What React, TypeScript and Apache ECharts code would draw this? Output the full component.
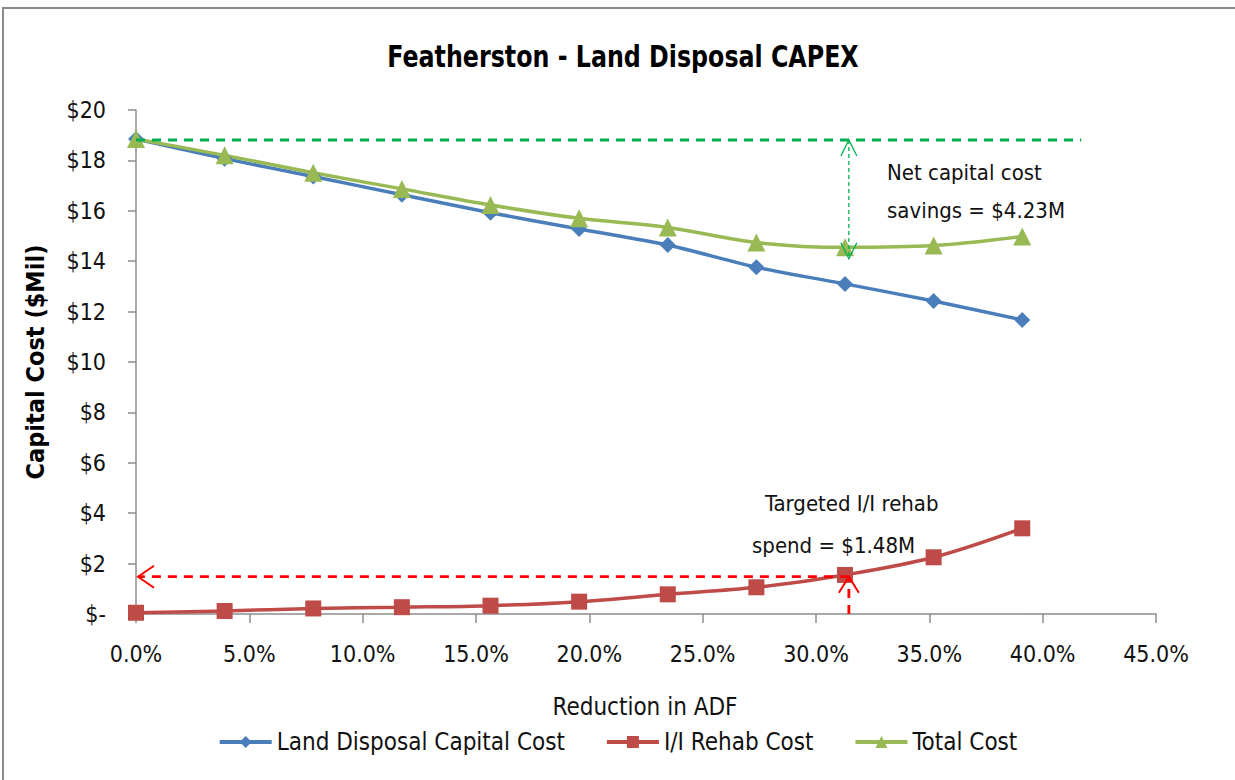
import React, { useEffect, useRef } from "react";
import * as echarts from "echarts";

const reductionPct = [0, 3.91, 7.82, 11.73, 15.64, 19.55, 23.46, 27.37, 31.28, 35.19, 39.1];
const landDisposalCost = [18.85, 18.07, 17.36, 16.64, 15.92, 15.28, 14.64, 13.76, 13.1, 12.42, 11.67];
const rehabCost = [0.05, 0.12, 0.22, 0.27, 0.33, 0.49, 0.78, 1.06, 1.55, 2.25, 3.4];
const totalCost = [18.85, 18.2, 17.51, 16.87, 16.23, 15.7, 15.34, 14.74, 14.55, 14.62, 14.98];

const seriesNames = ["Land Disposal Capital Cost", "I/I Rehab Cost", "Total Cost"];
const seriesColors = ["#4A7EBB", "#BE4B48", "#98B954"];

// annotation values (data units)
const baselineCost = 18.81;
const optimumCost = 14.1;
const optimumX = 31.45;
const baselineLineEnd = 41.7;
const rehabSpend = 1.48;
const rehabArrowEnd = 0;

const FONT = "'DejaVu Sans Condensed', Lato, 'Open Sans', sans-serif";

export default function App() {
  const ref = useRef<HTMLDivElement>(null);
  useEffect(() => {
    if (!ref.current) return;
    const chart = echarts.init(ref.current, null, { renderer: "svg" });

    const mk = (i: number, ys: number[], symbol: string, size: number, smooth: number) => ({
      name: seriesNames[i],
      type: "line",
      data: reductionPct.map((x, k) => [x, ys[k]]),
      smooth,
      symbol,
      symbolSize: size,
      showSymbol: true,
      lineStyle: { color: seriesColors[i], width: 3.5 },
      itemStyle: { color: seriesColors[i] },
      z: 3,
    });

    const vee = (tx: number, ty: number, dir: string, len: number, half: number) => {
      if (dir === "up") return [[tx - half, ty + len], [tx, ty], [tx + half, ty + len]];
      if (dir === "down") return [[tx - half, ty - len], [tx, ty], [tx + half, ty - len]];
      return [[tx + len, ty - half], [tx, ty], [tx + len, ty + half]];
    };

    const option: any = {
      animation: false,
      backgroundColor: "#fff",
      textStyle: { fontFamily: FONT },
      grid: { left: 136, top: 110, right: 79, bottom: 166, containLabel: false },
      xAxis: {
        type: "value",
        min: 0,
        max: 45,
        interval: 5,
        axisLine: { show: true, lineStyle: { color: "#8c8c8c", width: 1.5 } },
        axisTick: { show: true, length: 9, lineStyle: { color: "#8c8c8c", width: 1.5 } },
        splitLine: { show: false },
        axisLabel: {
          margin: 28,
          color: "#111",
          fontSize: 23,
          fontFamily: FONT,
          formatter: (v: number) => v.toFixed(1) + "%",
        },
      },
      yAxis: {
        type: "value",
        min: 0,
        max: 20,
        interval: 2,
        axisLine: { show: true, lineStyle: { color: "#8c8c8c", width: 1.5 } },
        axisTick: { show: true, length: 8, lineStyle: { color: "#8c8c8c", width: 1.5 } },
        splitLine: { show: false },
        axisLabel: {
          margin: 30,
          color: "#111",
          fontSize: 23,
          fontFamily: FONT,
          formatter: (v: number) => (v === 0 ? "$-" : "$" + v),
        },
      },
      legend: {
        data: seriesNames,
        left: "center",
        top: 725,
        itemWidth: 52,
        itemHeight: 15,
        itemGap: 40,
        lineStyle: { width: 4 },
        textStyle: { fontSize: 24, color: "#111", fontFamily: FONT },
      },
      graphic: [
        {
          type: "rect",
          shape: { x: 3, y: 8, width: 1240, height: 780 },
          style: { fill: "none", stroke: "#8a8a8a", lineWidth: 2 },
          silent: true,
        },
        {
          type: "text",
          x: 623,
          y: 57,
          scaleX: 0.88,
          style: {
            text: "Featherston - Land Disposal CAPEX",
            fontSize: 30,
            fontWeight: "bold",
            fontFamily: FONT,
            fill: "#000",
            textAlign: "center",
            textVerticalAlign: "middle",
          },
        },
        {
          type: "text",
          x: 35,
          y: 362,
          rotation: Math.PI / 2,
          style: {
            text: "Capital Cost ($Mil)",
            fontSize: 25,
            fontWeight: "bold",
            fontFamily: FONT,
            fill: "#000",
            textAlign: "center",
            textVerticalAlign: "middle",
          },
        },
        {
          type: "text",
          x: 645,
          y: 707,
          style: {
            text: "Reduction in ADF",
            fontSize: 24,
            fontFamily: FONT,
            fill: "#111",
            textAlign: "center",
            textVerticalAlign: "middle",
          },
        },
        {
          type: "text",
          x: 887,
          y: 172,
          style: { text: "Net capital cost", fontSize: 22, fontFamily: FONT, fill: "#111", textVerticalAlign: "middle" },
        },
        {
          type: "text",
          x: 887,
          y: 210,
          style: { text: "savings = $4.23M", fontSize: 22, fontFamily: FONT, fill: "#111", textVerticalAlign: "middle" },
        },
        {
          type: "text",
          x: 765,
          y: 503,
          style: { text: "Targeted I/I rehab", fontSize: 22, fontFamily: FONT, fill: "#111", textVerticalAlign: "middle" },
        },
        {
          type: "text",
          x: 752,
          y: 545,
          style: { text: "spend = $1.48M", fontSize: 22, fontFamily: FONT, fill: "#111", textVerticalAlign: "middle" },
        },
      ],
      series: [
        mk(0, landDisposalCost, "diamond", 16, 0.2),
        mk(1, rehabCost, "rect", 16, 0.35),
        mk(2, totalCost, "triangle", 18, 0.35),
        {
          type: "custom",
          name: "annotations",
          coordinateSystem: "cartesian2d",
          data: [[optimumX, baselineCost]],
          silent: true,
          z: 5,
          renderItem: (_params: any, api: any) => {
            const pBaseL = api.coord([0, baselineCost]);
            const pBaseR = api.coord([baselineLineEnd, baselineCost]);
            const pTop = api.coord([optimumX, baselineCost]);
            const pBot = api.coord([optimumX, optimumCost]);
            const pRehab = api.coord([optimumX, rehabSpend]);
            const pRehabL = api.coord([rehabArrowEnd, rehabSpend]);
            const pAxis = api.coord([optimumX, 0]);
            const green = "#00B050";
            const red = "#FF0000";
            return {
              type: "group",
              children: [
                {
                  type: "line",
                  shape: { x1: pBaseL[0], y1: pBaseL[1], x2: pBaseR[0], y2: pBaseR[1] },
                  style: { stroke: green, lineWidth: 2.8, lineDash: [9, 7] },
                },
                {
                  type: "line",
                  shape: { x1: pTop[0], y1: pTop[1], x2: pBot[0], y2: pBot[1] },
                  style: { stroke: green, lineWidth: 1.3, lineDash: [4, 3] },
                },
                {
                  type: "polyline",
                  shape: { points: vee(pTop[0], pTop[1], "up", 16, 8) },
                  style: { stroke: green, lineWidth: 1.3, fill: "none" },
                },
                {
                  type: "polyline",
                  shape: { points: vee(pBot[0], pBot[1], "down", 16, 8) },
                  style: { stroke: green, lineWidth: 1.3, fill: "none" },
                },
                {
                  type: "line",
                  shape: { x1: pRehab[0], y1: pRehab[1], x2: pRehabL[0] + 2, y2: pRehabL[1] },
                  style: { stroke: red, lineWidth: 2.8, lineDash: [9, 7] },
                },
                {
                  type: "polyline",
                  shape: { points: vee(pRehabL[0] + 2, pRehabL[1], "left", 16, 11) },
                  style: { stroke: red, lineWidth: 2, fill: "none" },
                },
                {
                  type: "line",
                  shape: { x1: pAxis[0], y1: pAxis[1], x2: pRehab[0], y2: pRehab[1] },
                  style: { stroke: red, lineWidth: 2.8, lineDash: [9, 7] },
                },
                {
                  type: "polyline",
                  shape: { points: vee(pRehab[0], pRehab[1], "up", 16, 10) },
                  style: { stroke: red, lineWidth: 2, fill: "none" },
                },
              ],
            };
          },
        },
      ],
    };
    chart.setOption(option);
    return () => chart.dispose();
  }, []);
  return (
    <div
      ref={ref}
      style={{ position: "absolute", left: 0, top: 0, width: 1235, height: 780 }}
    />
  );
}
